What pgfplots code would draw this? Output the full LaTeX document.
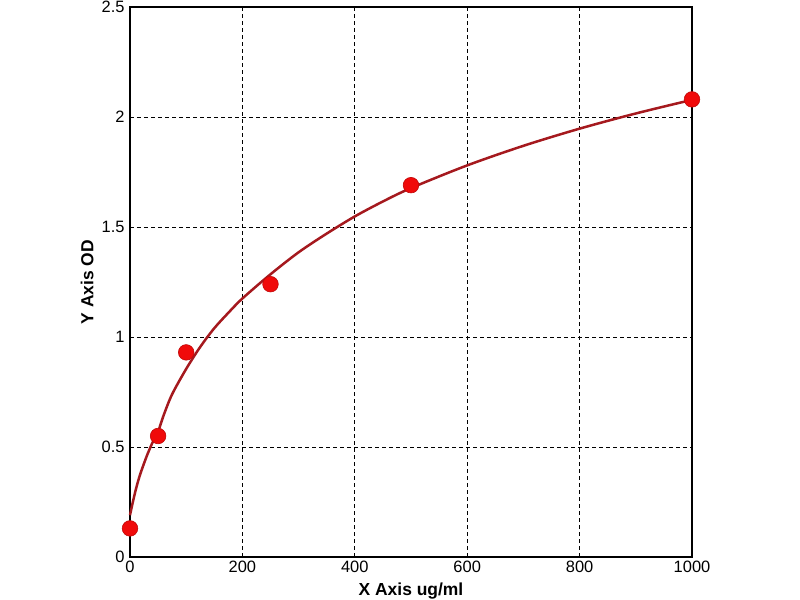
\documentclass[border=0pt]{standalone}
\usepackage{fontspec}
\setmainfont{Liberation Sans}
\usepackage{pgfplots}
\pgfplotsset{compat=1.18}
\definecolor{curvered}{RGB}{165,25,30}
\definecolor{markred}{RGB}{240,10,10}
\begin{document}
\begin{tikzpicture}[x=1bp,y=1bp]
\useasboundingbox (-130,-43) rectangle (670,557);
\begin{axis}[
  at={(0,0)}, anchor=south west,
  scale only axis, width=562bp, height=550bp,
  xmin=0, xmax=1000, ymin=0, ymax=2.5,
  xtick={0,200,400,600,800,1000},
  ytick={0,0.5,1,1.5,2,2.5},
  major tick length=0pt,
  grid=major,
  major grid style={black, line width=0.8bp, dash pattern=on 4bp off 3bp},
  axis line style={black, line width=1.6bp},
  /pgf/number format/assume math mode=true,
  /pgf/number format/1000 sep={},
  tick label style={font=\fontsize{16.5}{19}\selectfont},
  xticklabel style={yshift=-1bp},
  yticklabel style={xshift=-2bp},
  xlabel={X Axis ug/ml},
  ylabel={Y Axis OD},
  label style={font=\fontsize{17.5}{20}\selectfont\bfseries},
  xlabel style={at={(0.5,0)}, anchor=base, yshift=-39bp},
  ylabel style={at={(0,0.5)}, anchor=south, rotate=0, yshift=33bp},
  clip=false,
]
\addplot[curvered, line width=2.5bp, smooth, tension=0.5] coordinates {
  (0,0.19) (2,0.214) (5,0.249) (10,0.303) (15,0.35) (20,0.39) (30,0.46)
  (40,0.52) (50,0.57) (60,0.645) (75,0.74) (100,0.855) (125,0.955)
  (150,1.04) (175,1.11) (200,1.175) (250,1.285) (300,1.385) (350,1.47)
  (400,1.548) (450,1.616) (500,1.677) (600,1.780) (700,1.869)
  (800,1.947) (900,2.016) (1000,2.078)
};
\addplot[only marks, mark=*, mark size=7.8bp, mark options={fill=markred, draw=markred!80!black, line width=0.6bp}] coordinates {
  (0,0.13) (50,0.55) (100,0.93) (250,1.24) (500,1.69) (1000,2.08)
};
\end{axis}
\end{tikzpicture}
\end{document}
